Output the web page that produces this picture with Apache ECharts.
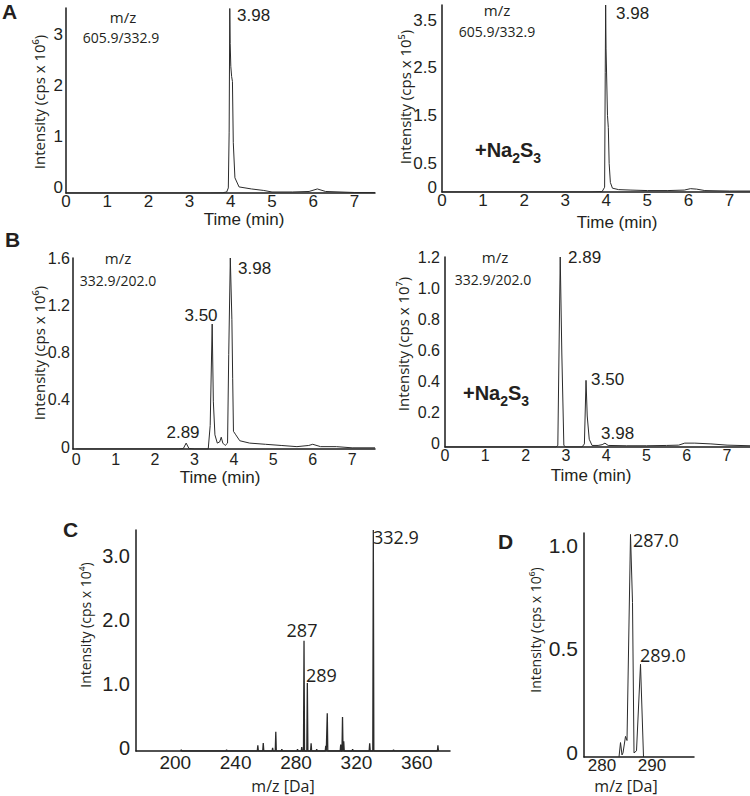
<!DOCTYPE html>
<html>
<head>
<meta charset="utf-8">
<script src="https://cdn.jsdelivr.net/npm/echarts@6/dist/echarts.min.js"></script>
<style>html,body{margin:0;padding:0;background:#fff}#c{width:750px;height:796px}</style>
</head>
<body>
<div id="c"></div>
<script>
// ---------- DATA ----------
const timeTicks = [0, 1, 2, 3, 4, 5, 6, 7];

// Panel A left: m/z 605.9/332.9 (cps x 10^6)
const aLeftTime = [0, 3.5, 3.8, 3.9, 3.94, 3.96, 3.975, 3.985, 4.0, 4.02, 4.04, 4.06, 4.1, 4.2, 4.5, 4.8, 5.0, 5.5, 5.9, 6.1, 6.3, 7.0, 7.5];
const aLeftInt  = [0, 0, 0.005, 0.02, 0.1, 1.2, 3.64, 2.95, 2.5, 2.3, 2.2, 1.0, 0.3, 0.12, 0.08, 0.05, 0.02, 0.02, 0.03, 0.08, 0.03, 0.01, 0.01];
const aLeftYTicks = [0, 1, 2, 3];
const aLeftYLabels = ['0', '1', '2', '3'];

// Panel A right: +Na2S3, m/z 605.9/332.9 (cps x 10^5)
const aRightTime = [0, 3.6, 3.9, 3.96, 3.975, 3.985, 3.995, 4.03, 4.05, 4.07, 4.1, 4.15, 4.3, 4.6, 5.0, 5.5, 5.9, 6.05, 6.2, 6.4, 7.0, 7.5];
const aRightInt  = [0, 0, 0.01, 0.1, 2.5, 3.92, 3.0, 1.6, 1.35, 0.6, 0.2, 0.08, 0.05, 0.04, 0.03, 0.03, 0.04, 0.07, 0.06, 0.03, 0.02, 0.02];
const aRightYTicks = [0, 0.5, 1.5, 2.5, 3.5];
const aRightYLabels = ['0', '0.5', '1.5', '2.5', '3.5'];

// Panel B left: m/z 332.9/202.0 (cps x 10^6)
const bLeftTime = [0, 2.6, 2.72, 2.79, 2.86, 3.0, 3.35, 3.4, 3.45, 3.48, 3.52, 3.58, 3.64, 3.68, 3.72, 3.78, 3.84, 3.87, 3.91, 3.95, 3.97, 3.99, 4.05, 4.15, 4.4, 4.8, 5.2, 5.6, 5.9, 6.0, 6.2, 6.6, 7.0, 7.58];
const bLeftInt  = [0, 0, 0.005, 0.05, 0.005, 0, 0, 0.2, 1.06, 0.4, 0.12, 0.05, 0.06, 0.1, 0.05, 0.03, 0.05, 0.8, 1.62, 1.1, 0.6, 0.15, 0.12, 0.07, 0.05, 0.04, 0.03, 0.02, 0.03, 0.04, 0.02, 0.02, 0.01, 0.01];
const bLeftYTicks = [0, 0.4, 0.8, 1.2, 1.6];
const bLeftYLabels = ['0', '0.4', '0.8', '1.2', '1.6'];

// Panel B right: +Na2S3, m/z 332.9/202.0 (cps x 10^7)
const bRightTime = [0, 2.75, 2.8, 2.86, 2.9, 2.95, 3.0, 3.4, 3.46, 3.5, 3.53, 3.58, 3.65, 3.8, 3.9, 3.97, 4.05, 4.5, 5.0, 5.5, 5.8, 5.95, 6.2, 6.6, 7.0, 7.57];
const bRightInt  = [0, 0, 0.01, 1.226, 0.6, 0.01, 0, 0, 0.02, 0.43, 0.2, 0.05, 0.01, 0.01, 0.015, 0.025, 0.01, 0.008, 0.008, 0.01, 0.012, 0.025, 0.025, 0.02, 0.012, 0.008];
const bRightYTicks = [0, 0.2, 0.4, 0.6, 0.8, 1.0, 1.2];
const bRightYLabels = ['0', '0.2', '0.4', '0.6', '0.8', '1.0', '1.2'];

// Panel C: MS spectrum (cps x 10^4)
const cMz  = [204, 234, 254.7, 258.3, 264.5, 266.6, 270.6, 281, 283.8, 285.3, 287.5, 290.0, 293.7, 299.7, 300.7, 309.6, 310.8, 311.6, 317.5, 328.8, 331.2, 344.6, 374];
const cInt = [0.02, 0.02, 0.09, 0.125, 0.05, 0.30, 0.03, 0.03, 0.06, 1.72, 1.06, 0.12, 0.03, 0.08, 0.59, 0.1, 0.53, 0.15, 0.03, 0.12, 3.45, 0.02, 0.09];
const cXTicks = [200, 240, 280, 320, 360];
const cYTicks = [0, 1, 2, 3];
const cYLabels = ['0', '1.0', '2.0', '3.0'];

// Panel D: MS spectrum zoom (cps x 10^6)
const dMz  = [283.4, 283.7, 284.0, 284.2, 284.7, 285.0, 285.7, 286.1, 286.4, 286.9, 287.7, 288.3];
const dInt = [0, 0.07, 0.01, 0.02, 0.10, 0.08, 1.08, 0.75, 0.02, 0.03, 0.45, 0];
const dXTicks = [280, 290];
const dYTicks = [0, 0.5, 1.0];
const dYLabels = ['0', '0.5', '1.0'];

// ---------- BUILD ----------
const TXT = '#231f20';
const LINE = '#2b2b2b';
const AX = '#1a1a1a';

function zip(a, b) { return a.map((v, i) => [v, b[i]]); }
function sticks(mz, h, w) {
  const out = [];
  mz.forEach((m, i) => { out.push([m - w, 0], [m, h[i]], [m + w, 0]); });
  return out;
}
function labelFor(ticks, labels) {
  return v => { const k = ticks.findIndex(t => Math.abs(t - v) < 1e-9); return k >= 0 ? labels[k] : ''; };
}

const grids = [
  { left: 66,  top: 8,   width: 309, height: 185 },
  { left: 442, top: 5,   width: 308, height: 187 },
  { left: 73,  top: 258, width: 302, height: 191 },
  { left: 445, top: 257, width: 305, height: 190 },
  { left: 136, top: 530, width: 314, height: 221 },
  { left: 584, top: 533, width: 110, height: 224 }
].map(g => Object.assign({ containLabel: false, outerBoundsMode: 'none' }, g));

function xAx(i, min, max, ticks, labels, fs, margin) {
  return {
    type: 'value', gridIndex: i, min, max,
    axisLine: { show: true, onZero: false, lineStyle: { color: AX, width: 1.5 } },
    axisTick: { show: false }, splitLine: { show: false },
    axisLabel: { customValues: ticks, formatter: labelFor(ticks, labels), fontSize: fs,
      fontFamily: 'Liberation Sans, Arial, sans-serif', color: TXT, margin, showMinLabel: true, showMaxLabel: true }
  };
}
function yAx(i, max, ticks, labels, fs, margin, up) {
  return {
    type: 'value', gridIndex: i, min: 0, max,
    axisLine: { show: true, onZero: false, lineStyle: { color: AX, width: 1.5 } },
    axisTick: { show: false }, splitLine: { show: false },
    axisLabel: { customValues: ticks, formatter: labelFor(ticks, labels), fontSize: fs,
      fontFamily: 'Liberation Sans, Arial, sans-serif', color: TXT, margin,
      verticalAlign: 'bottom', lineHeight: up * 2 }
  };
}
const tLab = timeTicks.map(String);

const xAxes = [
  xAx(0, 0, 7.5, timeTicks, tLab, 17, 0),
  xAx(1, 0, 7.5, timeTicks, tLab, 17, 0),
  xAx(2, -0.08, 7.58, timeTicks, tLab, 16, 2),
  xAx(3, 0, 7.57, timeTicks, tLab, 16, 0),
  xAx(4, 174, 382, cXTicks, cXTicks.map(String), 19, 2),
  xAx(5, 276.4, 298.4, dXTicks, dXTicks.map(String), 17, 0)
];
const yAxes = [
  yAx(0, 3.65, aLeftYTicks, aLeftYLabels, 17, 3, 6),
  yAx(1, 3.92, aRightYTicks, aRightYLabels, 17, 5, 5),
  yAx(2, 1.62, bLeftYTicks, bLeftYLabels, 16, 3, 2),
  yAx(3, 1.226, bRightYTicks, bRightYLabels, 16, 5, 4),
  yAx(4, 3.45, cYTicks, cYLabels, 20, 6, 3),
  yAx(5, 1.087, dYTicks, dYLabels, 21, 6, 5)
];

function lineSeries(i, data, w) {
  return { type: 'line', xAxisIndex: i, yAxisIndex: i, data, showSymbol: false, symbol: 'none',
    lineStyle: { color: LINE, width: w || 1 }, silent: true, animation: false, clip: true };
}
const series = [
  lineSeries(0, zip(aLeftTime, aLeftInt)),
  lineSeries(1, zip(aRightTime, aRightInt)),
  lineSeries(2, zip(bLeftTime, bLeftInt)),
  lineSeries(3, zip(bRightTime, bRightInt)),
  lineSeries(4, sticks(cMz, cInt, 0.35), 1.3),
  lineSeries(5, zip(dMz, dInt))
];

// ---------- TEXT ----------
const ARIAL = 'Liberation Sans, Arial, sans-serif';
const OPEN = '"Open Sans", "Noto Sans", sans-serif';
function txt(text, x, y, size, opt) {
  opt = opt || {};
  return { type: 'text', x, y, rotation: opt.rot || 0, silent: true,
    style: { text, fill: TXT, align: opt.align || 'center', verticalAlign: 'middle',
      font: (opt.bold ? 'bold ' : '') + size + 'px ' + (opt.fam || ARIAL) } };
}
function na2s3(x, y) {
  return { type: 'text', x, y, silent: true,
    style: { text: '{b|+Na}{s|2}{b|S}{s|3}', fill: TXT, align: 'left', verticalAlign: 'middle',
      rich: {
        b: { fontSize: 20, fontWeight: 'bold', fontFamily: ARIAL, lineHeight: 30, verticalAlign: 'middle', fill: TXT },
        s: { fontSize: 14, fontWeight: 'bold', fontFamily: ARIAL, lineHeight: 30, verticalAlign: 'bottom', fill: TXT }
      } } };
}
const R = Math.PI / 2;
const graphic = [
  txt('A', 2, 11.5, 21, { bold: true, align: 'left' }),
  txt('B', 5, 239.5, 21, { bold: true, align: 'left' }),
  txt('C', 63, 529.5, 21, { bold: true, align: 'left' }),
  txt('D', 498, 541.5, 21, { bold: true, align: 'left' }),
  // A left
  txt('m/z', 123, 17, 15, { fam: OPEN }),
  txt('605.9/332.9', 121, 37, 14, { fam: OPEN }),
  txt('3.98', 237, 15, 17, { align: 'left' }),
  txt('Time (min)', 244, 219, 17),
  txt('Intensity (cps x 10\u2076)', 39, 102, 15, { rot: R, fam: OPEN }),
  // A right
  txt('m/z', 497, 10, 15, { fam: OPEN }),
  txt('605.9/332.9', 497, 31, 14, { fam: OPEN }),
  txt('3.98', 616, 13, 17, { align: 'left' }),
  na2s3(475, 150),
  txt('Time (min)', 617, 222, 17),
  txt('Intensity (cps x 10\u2075)', 405, 97, 15, { rot: R, fam: OPEN }),
  // B left
  txt('m/z', 118, 258, 15, { fam: OPEN }),
  txt('332.9/202.0', 118, 280, 14, { fam: OPEN }),
  txt('3.50', 201, 315, 17),
  txt('3.98', 238, 268, 17, { align: 'left' }),
  txt('2.89', 183, 432, 17),
  txt('Time (min)', 220, 477, 17),
  txt('Intensity (cps x 10\u2076)', 39, 353, 15, { rot: R, fam: OPEN }),
  // B right
  txt('m/z', 495, 257, 15, { fam: OPEN }),
  txt('332.9/202.0', 493, 279, 14, { fam: OPEN }),
  txt('2.89', 568, 257, 17, { align: 'left' }),
  txt('3.50', 591, 379, 17, { align: 'left' }),
  txt('3.98', 601, 433, 17, { align: 'left' }),
  na2s3(463, 393),
  txt('Time (min)', 591, 475, 17),
  txt('Intensity (cps x 10\u2077)', 403, 344, 15, { rot: R, fam: OPEN }),
  // C
  txt('332.9', 373, 537, 18, { align: 'left', fam: OPEN }),
  txt('287', 302, 630, 18, { fam: OPEN }),
  txt('289', 306, 675, 18, { align: 'left', fam: OPEN }),
  txt('m/z [Da]', 283, 786, 16, { fam: OPEN }),
  txt('Intensity (cps x 10\u2074)', 85, 625, 14, { rot: R, fam: OPEN }),
  // D
  txt('287.0', 633, 540, 18, { align: 'left', fam: OPEN }),
  txt('289.0', 640, 655, 18, { align: 'left', fam: OPEN }),
  txt('m/z [Da]', 626, 786, 16, { fam: OPEN }),
  txt('Intensity (cps x 10\u2076)', 535, 630, 14, { rot: R, fam: OPEN })
];

const chart = echarts.init(document.getElementById('c'), null, { renderer: 'svg' });
chart.setOption({
  animation: false,
  backgroundColor: '#ffffff',
  grid: grids,
  xAxis: xAxes,
  yAxis: yAxes,
  series,
  graphic
});
</script>
</body>
</html>
